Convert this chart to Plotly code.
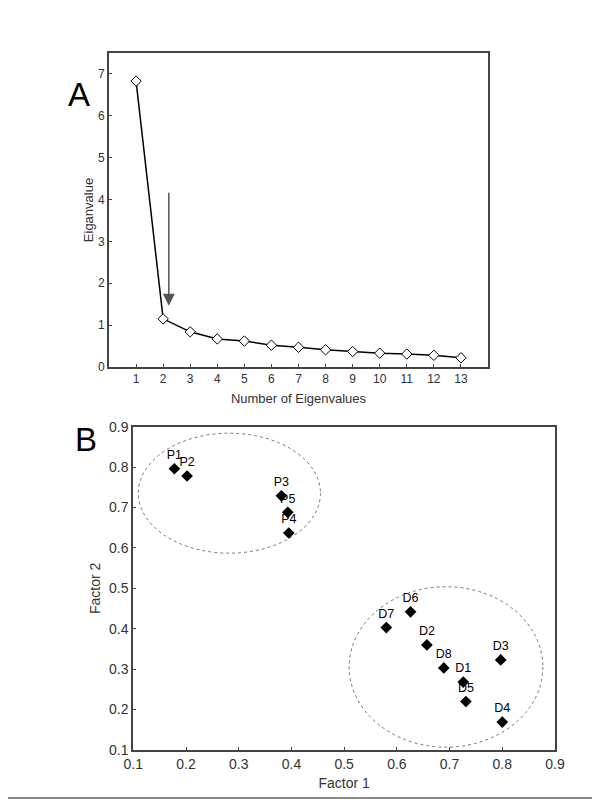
import plotly.graph_objects as go

# Panel A: scree plot
n_eigen = list(range(1, 14))
eigenvalues = [6.83, 1.15, 0.84, 0.67, 0.62, 0.52, 0.47, 0.41, 0.37, 0.33, 0.31, 0.28, 0.22]

# Panel B: factor loadings
labels = ["P1", "P2", "P3", "P5", "P4", "D6", "D7", "D2", "D8", "D1", "D5", "D3", "D4"]
factor1 = [0.178, 0.202, 0.381, 0.393, 0.395, 0.626, 0.580, 0.657, 0.689, 0.726, 0.731, 0.797, 0.800]
factor2 = [0.796, 0.778, 0.729, 0.688, 0.637, 0.442, 0.403, 0.360, 0.303, 0.268, 0.220, 0.323, 0.169]

# Cluster ellipses (x0, x1, y0, y1)
ellipse_p = [0.1095, 0.455, 0.587, 0.884]
ellipse_d = [0.5095, 0.877, 0.107, 0.504]

# Arrow (x, y_start, y_end)
arrow = [2.21, 4.2, 1.46]

FONT = "Liberation Sans, Arial, sans-serif"
AXC = "#444444"
TXT = "#333333"

# page body has an 8px default margin; figure is sized to fit the window
W, H, OFF = 592, 792, 8


def px(x):
    return (x - OFF) / W


def py(y):
    return 1 - (y - OFF) / H


fig = go.Figure()

fig.add_trace(go.Scatter(
    x=n_eigen, y=eigenvalues, mode="lines+markers",
    line=dict(color="black", width=1.5),
    marker=dict(symbol="diamond", size=8, color="white", line=dict(color="black", width=1)),
    xaxis="x", yaxis="y", showlegend=False, cliponaxis=False,
))

fig.add_trace(go.Scatter(
    x=factor1, y=factor2, mode="markers+text", text=labels,
    textposition="top center", textfont=dict(family=FONT, size=12.5, color="black"),
    marker=dict(symbol="diamond", size=9, color="black"),
    xaxis="x2", yaxis="y2", showlegend=False,
))


def axis_common(fs):
    return dict(
        showgrid=False, zeroline=False, showline=True, mirror=True, automargin=False,
        linecolor=AXC, linewidth=2, ticks="inside", ticklen=3, tickcolor=AXC,
        tickfont=dict(family=FONT, size=fs, color=TXT),
    )


fig.update_layout(
    width=W, height=H,
    margin=dict(l=0, r=0, t=0, b=0),
    paper_bgcolor="white", plot_bgcolor="white",
    font=dict(family=FONT, color=TXT),
    xaxis=dict(domain=[px(109), px(488)], range=[0, 14], tickmode="array", tickvals=n_eigen,
               title=dict(text="Number of Eigenvalues", font=dict(size=13, color=TXT), standoff=8),
               anchor="y", **axis_common(12)),
    yaxis=dict(domain=[py(367), py(53)], range=[0, 7.5], tickmode="linear", tick0=0, dtick=1,
               title=dict(text="Eiganvalue", font=dict(size=13, color=TXT), standoff=1),
               anchor="x", **axis_common(12)),
    xaxis2=dict(domain=[px(133.3), px(555)], range=[0.1, 0.9], tickmode="linear", tick0=0.1, dtick=0.1,
                tickformat=".1f",
                title=dict(text="Factor 1", font=dict(size=14, color=TXT), standoff=7),
                anchor="y2", **axis_common(14)),
    yaxis2=dict(domain=[py(750), py(426.7)], range=[0.1, 0.9], tickmode="linear", tick0=0.1, dtick=0.1,
                tickformat=".1f",
                title=dict(text="Factor 2", font=dict(size=14, color=TXT), standoff=5),
                anchor="x2", **axis_common(14)),
)

for e in (ellipse_p, ellipse_d):
    fig.add_shape(type="circle", xref="x2", yref="y2", x0=e[0], x1=e[1], y0=e[2], y1=e[3],
                  line=dict(color="#777777", width=1, dash="dot"))

fig.add_annotation(x=arrow[0], y=arrow[2], ax=arrow[0], ay=arrow[1], xref="x", yref="y",
                   axref="x", ayref="y", showarrow=True, arrowhead=2, arrowsize=1.6,
                   arrowwidth=1.5, arrowcolor="#555555", text="")

fig.add_annotation(x=px(66), y=py(74), xref="paper", yref="paper", text="A",
                   showarrow=False, font=dict(family=FONT, size=33, color="black"))
fig.add_annotation(x=px(73), y=py(440), xref="paper", yref="paper", text="B",
                   showarrow=False, font=dict(family=FONT, size=33, color="black"))

fig.add_shape(type="line", xref="paper", yref="paper", x0=0, x1=1, y0=py(798), y1=py(798),
              line=dict(color="#888888", width=2))

fig.write_html("out.html")
